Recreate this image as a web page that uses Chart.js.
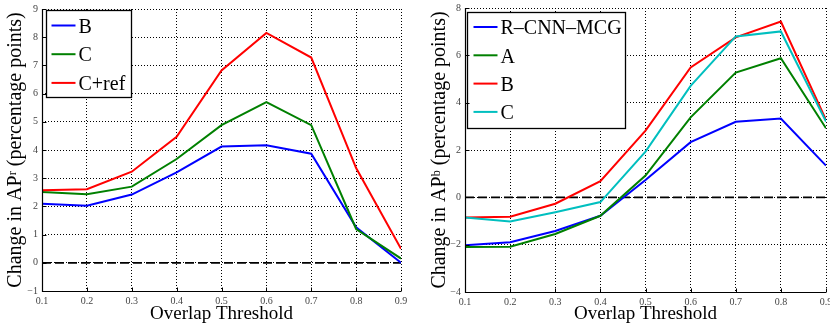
<!DOCTYPE html>
<html lang="en">
<head>
  <meta charset="UTF-8">
  <title>Change in AP vs Overlap Threshold</title>
  <script src="https://cdn.jsdelivr.net/npm/chart.js@4"></script>
  <style>
    body {
      margin: 0;
      background: #fff;
      width: 830px;
      height: 326px;
      overflow: hidden;
      position: relative;
    }
    .panel {
      position: absolute;
      top: 0;
      width: 415px;
      height: 326px;
    }
  </style>
</head>
<body>
  <div class="panel" style="left:0"><canvas id="leftChart"></canvas></div>
  <div class="panel" style="left:415px"><canvas id="rightChart"></canvas></div>

  <script>
    // Data
    const thresholds = [0.1, 0.2, 0.3, 0.4, 0.5, 0.6, 0.7, 0.8, 0.9];
    const xTickLabels = ['0.1', '0.2', '0.3', '0.4', '0.5', '0.6', '0.7', '0.8', '0.9'];

    // left panel: AP^r
    const leftB    = [2.09, 2.02, 2.42, 3.21, 4.12, 4.17, 3.87, 1.26, 0.00];
    const leftC    = [2.51, 2.43, 2.70, 3.68, 4.88, 5.70, 4.88, 1.20, 0.15];
    const leftCref = [2.57, 2.61, 3.23, 4.47, 6.82, 8.15, 7.28, 3.36, 0.50];
    const leftYTicks = [-1, 0, 1, 2, 3, 4, 5, 6, 7, 8, 9];

    // right panel: AP^b
    const rightRcnn = [-2.03, -1.90, -1.42, -0.78, 0.73, 2.33, 3.19, 3.33, 1.34];
    const rightA    = [-2.10, -2.09, -1.55, -0.78, 0.92, 3.38, 5.27, 5.88, 2.92];
    const rightB    = [-0.85, -0.82, -0.27, 0.68, 2.82, 5.49, 6.76, 7.43, 3.27];
    const rightC    = [-0.85, -1.02, -0.63, -0.20, 1.93, 4.71, 6.80, 7.01, 3.20];
    const rightYTicks = [-4, -2, 0, 2, 4, 6, 8];

    const zeroLine = [0, 0];

    const SERIF = '"Liberation Serif", "DejaVu Serif", serif';

    function toPoints(values) {
      return values.map((v, i) => ({ x: thresholds[i], y: v }));
    }

    // legend drawn inside the plot, Matlab style
    const boxLegend = {
      id: 'boxLegend',
      afterDatasetsDraw(chart, args, opts) {
        const { ctx, chartArea } = chart;
        const x = Math.round(chartArea.left + opts.dx) + 0.5;
        const y = Math.round(chartArea.top + opts.dy) + 0.5;
        ctx.save();
        ctx.fillStyle = '#fff';
        ctx.fillRect(x, y, opts.w, opts.h);
        ctx.strokeStyle = '#000';
        ctx.lineWidth = 1.3;
        ctx.strokeRect(x, y, opts.w, opts.h);
        ctx.font = opts.font;
        ctx.textBaseline = 'middle';
        ctx.fillStyle = '#000';
        chart.data.datasets.filter(d => d.label).forEach((d, i) => {
          const rowY = y + opts.first + i * opts.pitch;
          ctx.strokeStyle = d.borderColor;
          ctx.lineWidth = 2;
          ctx.beginPath();
          ctx.moveTo(x + opts.lineX, rowY);
          ctx.lineTo(x + opts.lineX + 24, rowY);
          ctx.stroke();
          ctx.fillText(d.label, x + opts.lineX + 27, rowY + 2);
        });
        ctx.restore();
      }
    };

    // solid left and bottom axes with small inward ticks
    const axisFrame = {
      id: 'axisFrame',
      afterDraw(chart) {
        const { ctx, chartArea, scales } = chart;
        const l = Math.round(chartArea.left) + 0.5;
        const b = Math.round(chartArea.bottom) + 0.5;
        ctx.save();
        ctx.strokeStyle = '#000';
        ctx.lineWidth = 1.2;
        ctx.beginPath();
        ctx.moveTo(l, chartArea.top);
        ctx.lineTo(l, b);
        ctx.lineTo(chartArea.right, b);
        ctx.stroke();
        ctx.lineWidth = 1;
        ctx.beginPath();
        scales.x.ticks.forEach(t => {
          const px = Math.round(scales.x.getPixelForValue(t.value)) + 0.5;
          ctx.moveTo(px, b);
          ctx.lineTo(px, b - 4);
        });
        scales.y.ticks.forEach(t => {
          const py = Math.round(scales.y.getPixelForValue(t.value)) + 0.5;
          ctx.moveTo(l, py);
          ctx.lineTo(l + 4, py);
        });
        ctx.stroke();
        ctx.restore();
      }
    };

    function makeChart(id, series, yTicks, yTitle, layout, legend) {
      const datasets = series.map(s => ({
        label: s.label,
        data: toPoints(s.data),
        borderColor: s.color,
        borderWidth: 2,
        pointRadius: 0,
        tension: 0,
        order: s.order
      }));
      datasets.push({
        label: '',
        data: [{ x: thresholds[0], y: zeroLine[0] }, { x: thresholds[thresholds.length - 1], y: zeroLine[1] }],
        borderColor: '#000',
        borderWidth: 1.7,
        borderDash: [9, 4],
        pointRadius: 0,
        order: 10
      });

      return new Chart(document.getElementById(id), {
        type: 'line',
        data: { datasets },
        options: {
          responsive: true,
          maintainAspectRatio: false,
          animation: false,
          events: [],
          layout: { padding: layout.padding },
          plugins: {
            legend: { display: false },
            tooltip: { enabled: false },
            boxLegend: legend
          },
          scales: {
            x: {
              type: 'linear',
              min: thresholds[0],
              max: thresholds[thresholds.length - 1],
              afterBuildTicks(scale) {
                scale.ticks = thresholds.map(v => ({ value: v }));
              },
              afterFit(scale) {
                scale.height = layout.xHeight;
                scale.paddingLeft = 0;
                scale.paddingRight = 0;
              },
              grid: { color: '#000', lineWidth: 1, drawTicks: false },
              border: { display: false, dash: [1, 2] },
              ticks: {
                padding: 4,
                color: '#444',
                font: { family: SERIF, size: 10 },
                maxRotation: 0,
                autoSkip: false,
                callback: (v, i) => xTickLabels[i]
              },
              title: {
                display: true,
                text: 'Overlap Threshold',
                color: '#000',
                font: { family: SERIF, size: 19 },
                padding: { top: 1, bottom: 1 }
              }
            },
            y: {
              min: yTicks[0],
              max: yTicks[yTicks.length - 1],
              afterBuildTicks(scale) {
                scale.ticks = yTicks.map(v => ({ value: v }));
              },
              afterFit(scale) {
                scale.width = layout.yWidth;
                scale.paddingTop = 0;
                scale.paddingBottom = 0;
              },
              grid: { color: '#000', lineWidth: 1, drawTicks: false },
              border: { display: false, dash: [1, 2] },
              ticks: {
                padding: 4,
                color: '#444',
                font: { family: SERIF, size: 10 },
                autoSkip: false,
                callback: v => String(v).replace('-', '\u2212')
              },
              title: {
                display: true,
                text: yTitle,
                color: '#000',
                font: { family: SERIF, size: 20 },
                padding: { top: 4, bottom: 4 }
              }
            }
          }
        },
        plugins: [boxLegend, axisFrame]
      });
    }

    makeChart('leftChart', [
      { label: 'B', data: leftB, color: '#0000ff', order: 3 },
      { label: 'C', data: leftC, color: '#008000', order: 2 },
      { label: 'C+ref', data: leftCref, color: '#ff0000', order: 1 }
    ], leftYTicks, 'Change in AP\u02B3 (percentage points)',
      { padding: { left: 0, top: 9, right: 14, bottom: 0 }, yWidth: 42, xHeight: 35 },
      { dx: 4, dy: 1, w: 85, h: 87, first: 15, pitch: 28.7, lineX: 5, font: '20px ' + SERIF });

    makeChart('rightChart', [
      { label: 'R\u2013CNN\u2013MCG', data: rightRcnn, color: '#0000ff', order: 4 },
      { label: 'A', data: rightA, color: '#008000', order: 3 },
      { label: 'B', data: rightB, color: '#ff0000', order: 2 },
      { label: 'C', data: rightC, color: '#00bfbf', order: 1 }
    ], rightYTicks, 'Change in AP\u1D47 (percentage points)',
      { padding: { left: 9, top: 8, right: 4, bottom: 0 }, yWidth: 41, xHeight: 34 },
      { dx: 2, dy: 4, w: 158, h: 116, first: 14.5, pitch: 28.3, lineX: 6, font: '20px ' + SERIF });
  </script>
</body>
</html>
